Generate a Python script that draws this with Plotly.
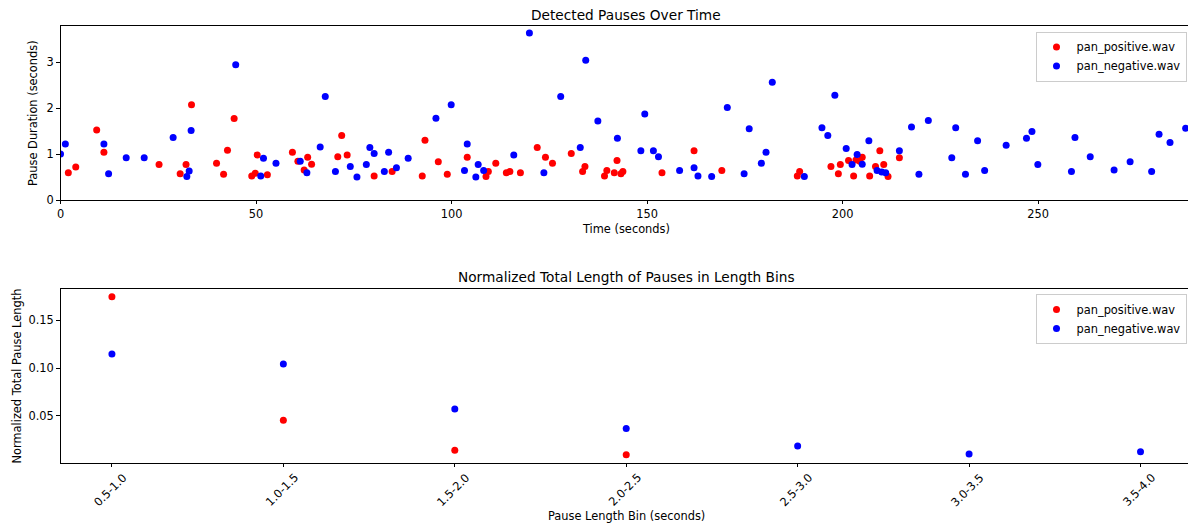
import plotly.graph_objects as go

W, H = 1188, 524

# ---- Data: detected pauses (time in s, duration in s) ----
pos_times = [2.0, 3.9, 9.25, 11.1, 25.2, 30.6, 32.1, 33.5, 39.9, 41.7, 42.7, 44.4,
             48.9, 49.8, 50.3, 52.9, 59.3, 60.7, 62.3, 63.2, 64.2, 70.9, 71.9, 73.3,
             80.2, 84.8, 92.5, 93.2, 96.6, 98.9, 104.0, 108.8, 109.4, 111.3, 114.0,
             114.9, 117.6, 121.9, 124.0, 125.8, 130.6, 133.5, 134.1, 139.1, 139.7,
             141.6, 142.3, 143.3, 143.8, 153.8, 162.0, 169.1, 188.4, 189.0, 197.0,
             198.9, 199.4, 201.5, 202.8, 203.4, 204.4, 205.0, 206.9, 208.4, 209.5,
             210.5, 211.6, 214.5]
pos_durations = [0.59, 0.72, 1.52, 1.04, 0.77, 0.57, 0.77, 2.07, 0.80, 0.56, 1.08, 1.77,
                 0.52, 0.58, 0.98, 0.55, 1.04, 0.84, 0.65, 0.93, 0.78, 0.94, 1.40, 0.98,
                 0.52, 0.62, 0.52, 1.30, 0.83, 0.56, 0.93, 0.51, 0.62, 0.80, 0.59,
                 0.62, 0.59, 1.14, 0.93, 0.80, 1.01, 0.62, 0.73, 0.52, 0.64,
                 0.59, 0.86, 0.57, 0.62, 0.59, 1.07, 0.64, 0.52, 0.62, 0.73,
                 0.57, 0.77, 0.86, 0.52, 0.87, 0.84, 0.93, 0.52, 0.73, 1.07,
                 0.77, 0.51, 0.92]

neg_times = [0.0, 1.24, 11.1, 12.3, 16.8, 21.4, 28.8, 32.3, 32.9, 33.4, 44.8, 51.2,
             51.9, 55.1, 61.3, 63.0, 66.4, 67.7, 70.3, 74.1, 75.8, 78.2, 79.1, 80.2,
             82.8, 83.9, 85.9, 88.9, 96.0, 99.9, 103.3, 104.0, 106.2, 106.8, 108.2,
             115.9, 119.9, 123.6, 127.9, 132.9, 134.3, 137.4, 142.4, 148.4, 149.4,
             151.6, 152.9, 158.3, 162.0, 163.0, 166.5, 170.5, 174.8, 176.1, 179.2,
             180.4, 182.0, 190.2, 194.7, 196.2, 198.0, 200.9, 202.4, 203.7, 205.0,
             206.7, 208.8, 210.0, 211.0, 214.5, 217.6, 219.5, 221.9, 227.9, 228.9,
             231.4, 234.5, 236.3, 241.8, 247.0, 248.4, 249.9, 258.5, 259.4, 263.3,
             269.4, 273.5, 279.0, 280.9, 283.7, 287.7]
neg_durations = [1.00, 1.22, 1.22, 0.57, 0.92, 0.92, 1.36, 0.51, 0.63, 1.51, 2.94, 0.52,
                 0.91, 0.80, 0.84, 0.59, 1.15, 2.25, 0.62, 0.73, 0.50, 0.77, 1.14, 1.01,
                 0.62, 1.04, 0.70, 0.91, 1.78, 2.07, 0.64, 1.22, 0.50, 0.77, 0.64,
                 0.98, 3.63, 0.59, 2.25, 1.14, 3.04, 1.72, 1.34, 1.07, 1.87,
                 1.07, 0.94, 0.64, 0.70, 0.52, 0.51, 2.01, 0.57, 1.55, 0.80,
                 1.04, 2.56, 0.51, 1.57, 1.40, 2.28, 1.12, 0.77, 0.99, 0.78,
                 1.29, 0.64, 0.61, 0.59, 1.07, 1.59, 0.56, 1.73, 0.92, 1.57,
                 0.56, 1.29, 0.64, 1.19, 1.34, 1.49, 0.77, 0.62, 1.36, 0.94,
                 0.65, 0.83, 0.62, 1.43, 1.25, 1.56]

# ---- Data: normalized total pause length per bin ----
bin_labels = ["0.5-1.0", "1.0-1.5", "1.5-2.0", "2.0-2.5", "2.5-3.0", "3.0-3.5", "3.5-4.0"]
pos_bins = ["0.5-1.0", "1.0-1.5", "1.5-2.0", "2.0-2.5"]
pos_norm = [0.1747, 0.0454, 0.0140, 0.0094]
neg_norm = [0.1147, 0.1043, 0.0572, 0.0370, 0.0185, 0.0101, 0.0126]

RED = "#ff0000"
BLUE = "#0000ff"
FONT = "DejaVu Sans"
MS = 7

def px(x):
    return x / W

def py(y):
    return 1 - y / H

fig = go.Figure()
fig.add_trace(go.Scatter(x=pos_times, y=pos_durations, mode="markers", name="pan_positive.wav",
                         marker=dict(color=RED, size=MS, line=dict(width=0)),
                         xaxis="x", yaxis="y", legend="legend"))
fig.add_trace(go.Scatter(x=neg_times, y=neg_durations, mode="markers", name="pan_negative.wav",
                         marker=dict(color=BLUE, size=MS, line=dict(width=0)),
                         xaxis="x", yaxis="y", legend="legend"))

idx_pos = [bin_labels.index(b) for b in pos_bins]
idx_neg = list(range(len(bin_labels)))
fig.add_trace(go.Scatter(x=idx_pos, y=pos_norm, mode="markers", name="pan_positive.wav",
                         marker=dict(color=RED, size=MS, line=dict(width=0)),
                         xaxis="x2", yaxis="y2", legend="legend2"))
fig.add_trace(go.Scatter(x=idx_neg, y=neg_norm, mode="markers", name="pan_negative.wav",
                         marker=dict(color=BLUE, size=MS, line=dict(width=0)),
                         xaxis="x2", yaxis="y2", legend="legend2"))

axis_common = dict(showgrid=False, zeroline=False, showline=True, linecolor="#000",
                   linewidth=0.8, ticks="outside", ticklen=3.5, tickwidth=0.8,
                   tickcolor="#000", automargin=False,
                   tickfont=dict(family=FONT, size=11.4, color="#000"))

x_left = px(60.5)
fig.update_layout(
    width=W, height=H,
    margin=dict(l=0, r=0, t=0, b=0, pad=0, autoexpand=False),
    paper_bgcolor="white", plot_bgcolor="white",
    font=dict(family=FONT, size=11.4, color="#000"),
    xaxis=dict(domain=[x_left, 1], range=[0, 288.3], anchor="y", tickmode="linear",
               tick0=0, dtick=50, mirror=True, **axis_common),
    yaxis=dict(domain=[py(200), py(25.7)], range=[0, 3.79], anchor="x", tickmode="linear",
               tick0=0, dtick=1, **axis_common),
    xaxis2=dict(domain=[x_left, 1], range=[-0.3, 6.277], anchor="y2", tickmode="array",
                tickvals=idx_neg, showticklabels=False, mirror=True, **axis_common),
    yaxis2=dict(domain=[py(462.7), py(289)], range=[0.0011, 0.1828], anchor="x2",
                tickmode="array", tickvals=[0.05, 0.10, 0.15], tickformat=".2f", **axis_common),
    legend=dict(x=px(1186.5), y=py(31.5), xanchor="right", yanchor="top",
                bgcolor="rgba(255,255,255,0.8)", bordercolor="#cccccc", borderwidth=1,
                font=dict(family=FONT, size=11.4, color="#000"), itemwidth=30,
                tracegroupgap=0),
    legend2=dict(x=px(1186.5), y=py(294), xanchor="right", yanchor="top",
                 bgcolor="rgba(255,255,255,0.8)", bordercolor="#cccccc", borderwidth=1,
                 font=dict(family=FONT, size=11.4, color="#000"), itemwidth=30,
                 tracegroupgap=0),
    showlegend=True,
)

cx = (60.5 + 1192) / 2
annotations = [
    dict(text="Detected Pauses Over Time", x=px(cx), y=py(15), font=dict(size=13.7)),
    dict(text="Time (seconds)", x=px(cx), y=py(229), font=dict(size=11.4)),
    dict(text="Pause Duration (seconds)", x=px(33), y=py(113), textangle=-90, font=dict(size=11.4)),
    dict(text="Normalized Total Length of Pauses in Length Bins", x=px(cx), y=py(277), font=dict(size=13.7)),
    dict(text="Pause Length Bin (seconds)", x=px(cx), y=py(516), font=dict(size=11.4)),
    dict(text="Normalized Total Pause Length", x=px(16.5), y=py(376), textangle=-90, font=dict(size=11.4)),
]
for a in annotations:
    a.update(xref="paper", yref="paper", showarrow=False, xanchor="center", yanchor="middle")
    a["font"] = dict(family=FONT, color="#000", **a["font"])
for i, lab in enumerate(bin_labels):
    annotations.append(dict(text=lab, x=i - 0.01, y=py(490), xref="x2", yref="paper",
                            showarrow=False, textangle=-45, xanchor="center", yanchor="middle",
                            font=dict(family=FONT, size=11.4, color="#000")))
fig.update_layout(annotations=annotations)

fig.write_html("out.html")
